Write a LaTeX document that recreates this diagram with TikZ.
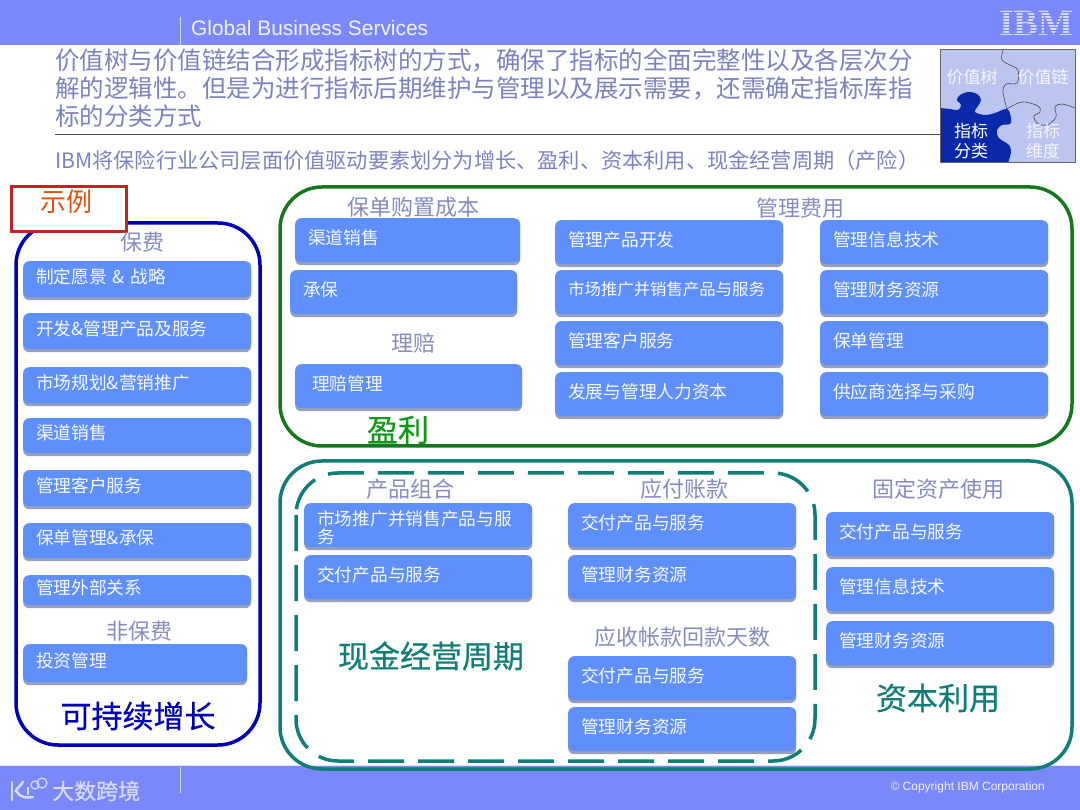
\documentclass[tikz,border=0pt]{standalone}
\usepackage{fontspec}
\setmainfont{Noto Sans CJK SC}
\newfontfamily\hdfont{Liberation Sans}
\newfontfamily\logofont{Liberation Serif}
\newfontfamily\bigfont[FakeBold=0.5]{Noto Sans CJK SC}
\usetikzlibrary{shadows}
\definecolor{bandblue}{RGB}{122,136,250}
\definecolor{boxblue}{RGB}{95,143,250}
\definecolor{boxshadow}{RGB}{150,160,190}
\definecolor{titlegray}{RGB}{125,130,190}
\definecolor{subgray}{RGB}{135,140,190}
\definecolor{framenavy}{RGB}{0,0,180}
\definecolor{framegreen}{RGB}{20,120,30}
\definecolor{frameteal}{RGB}{15,125,120}
\definecolor{puzzlelight}{RGB}{188,196,240}
\definecolor{puzzledark}{RGB}{10,40,170}
\definecolor{examplered}{RGB}{195,35,35}
\newcommand{\fs}[1]{\fontsize{#1}{#1}\selectfont}
\tikzset{
    bluebox/.style={rectangle,rounded corners=6pt,fill=boxblue,text=white!95!boxblue,anchor=north west,
        minimum height=44pt,inner xsep=13pt,inner ysep=0pt,text width=202pt,align=left,text depth=7pt,font=\fs{17.7},
        drop shadow={shadow xshift=0pt,shadow yshift=-3pt,fill=boxshadow,opacity=1}},
    sublabel/.style={text=subgray,font=\fs{22},inner sep=0pt},
    biglabel/.style={font=\bigfont\fs{31},inner sep=0pt},
    headline/.style={text=titlegray,font=\fs{24.5},anchor=west,inner sep=0pt},
    frame/.style={line width=3.5pt,rounded corners=42pt}
}
\begin{document}
\begin{tikzpicture}[x=1pt,y=-1pt]
    \useasboundingbox(0,0)rectangle(1080,810);
    \fill[white](0,0)rectangle(1080,810);
    % bande
    \fill[bandblue](0,0)rectangle(1080,45);
    \fill[bandblue](0,765)rectangle(1080,810);
    \draw[white!75!bandblue](0,765)--(1080,765);
    \draw[white!70!bandblue,line width=1pt](180,17)--(180,45);
    \draw[white!70!bandblue,line width=1pt](180,767)--(180,793);
    \node[anchor=west,inner sep=0pt,text=white!90!bandblue,font=\hdfont\fs{20.9}] (service) at (191,28) {Global Business Services};
    \node[inner sep=0pt,text=white!70!bandblue,font=\logofont\bfseries\fs{37}] (ibmlogo) at (1036,23) {IBM};
    \foreach \y in {9,12,...,36}
        \draw[bandblue,line width=0.9pt](995,\y)--(1076,\y);
    \node[anchor=east,inner sep=0pt,text=white!90!bandblue,font=\hdfont\fs{12}] (copyright) at (1045,787) {© Copyright IBM Corporation};
    % marchio
    \draw[white!70!bandblue,line width=2.5pt,line cap=round](12,782)--(12,800);
    \draw[white!70!bandblue,line width=2.5pt,line cap=round](23,782)to[out=240,in=180](17,792)to[out=0,in=0](17,792)
        to[out=-60,in=190](33,797);
    \draw[white!70!bandblue,line width=2pt](28,787)--(28,795);
    \draw[white!70!bandblue,line width=1.2pt](35,785)circle(4);
    \draw[white!70!bandblue,line width=1.2pt](42,783)circle(5);
    \node[anchor=west,inner sep=0pt,text=white!70!bandblue,font=\bigfont\fs{22}] (watermark) at (52,791) {大数跨境};
    % testo
    \node[headline] (line1) at (55,60) {价值树与价值链结合形成指标树的方式，确保了指标的全面完整性以及各层次分};
    \node[headline] (line2) at (55,88) {解的逻辑性。但是为进行指标后期维护与管理以及展示需要，还需确定指标库指};
    \node[headline] (line3) at (55,116) {标的分类方式};
    \draw[black!70,line width=1pt](55,135)--(940,135);
    \node[headline,font=\fs{21.2}] (line4) at (55,160) {IBM将保险行业公司层面价值驱动要素划分为增长、盈利、资本利用、现金经营周期（产险）};
    % puzzle
    \fill[puzzlelight](940,50)rectangle(1075,163);
    \fill[puzzledark](940,108)plot[smooth,tension=0.6]coordinates{(940,108)(950,109)(958,110)(961,105)(957,100)(960,95)(968,92)(977,94)(981,100)(978,106)(975,112)(985,115)(995,113)(1007,109)(1011,118)(1010,124)(1002,125)(997,130)(998,137)(1003,141)(1009,145)(1011,152)(1008,163)}--(940,163)--cycle;
    \draw[black!70,line width=0.6pt]plot[smooth,tension=0.6]coordinates{(1003,50)(1002,60)(1012,66)(1018,70)(1017,83)(1006,84)(1003,92)(1007,109)};
    \draw[black!70,line width=0.6pt]plot[smooth,tension=0.6]coordinates{(1007,109)(1022,102)(1038,106)(1040,112)(1034,116)(1037,123)(1047,125)(1056,117)(1055,107)(1062,104)(1075,108)};
    \draw[black!60,line width=1pt](940,50)rectangle(1075,163);
    \node[inner sep=0pt,text=white!85!puzzlelight,font=\fs{17}] (valuetree) at (972,77) {价值树};
    \node[inner sep=0pt,text=white!85!puzzlelight,font=\fs{17}] (valuechain) at (1043,77) {价值链};
    \node[inner sep=0pt,text=white,font=\fs{17},align=center] (kpiclass) at (971,141) {指标\\[3pt]分类};
    \node[inner sep=0pt,text=white!85!puzzlelight,font=\fs{17},align=center] (kpidim) at (1043,141) {指标\\[3pt]维度};
    % cornici
    \draw[frame,framenavy](16,223)rectangle(260,745);
    \draw[frame,framegreen](280,187)rectangle(1072,446);
    \draw[frame,frameteal](280,461)rectangle(1072,769);
    \draw[frameteal,line width=3.5pt,rounded corners=42pt,dash pattern=on 36pt off 14pt](296,473)rectangle(815,761);
    \node[draw=examplered,line width=3pt,fill=white,minimum width=115pt,minimum height=45pt,anchor=north west] (example) at (9.5,185.5) {};
    \node[inner sep=0pt,text=orange!50!examplered,font=\fs{26}] (exampletxt) at (67,202) {示例};
    % colonna sinistra
    \node[sublabel] (premium) at (142,242) {保费};
    \foreach \i/\y/\h/\txt in {1/261/36/制定愿景 \& 战略,2/313/36/开发\&管理产品及服务,3/367/36/市场规划\&营销推广,4/418/35/渠道销售,5/470/36/管理客户服务,6/523/35/保单管理\&承保,7/575/30/管理外部关系}
        \node[bluebox,minimum height=\h pt] (premium\i) at (23,\y) {\txt};
    \node[sublabel] (nonpremium) at (139,631) {非保费};
    \node[bluebox,text width=198pt,minimum height=38pt] (invest) at (23,644) {投资管理};
    \node[biglabel,text=framenavy] (growth) at (138,716) {可持续增长};
    % riquadro verde
    \node[sublabel] (policycost) at (413,207) {保单购置成本};
    \node[bluebox,text width=199pt] (channel) at (295,218) {渠道销售};
    \node[bluebox,text width=201pt] (underwrite) at (290,270) {承保};
    \node[sublabel] (claim) at (413,343) {理赔};
    \node[bluebox,text width=193pt,inner xsep=17pt] (claimmgmt) at (295,364) {理赔管理};
    \node[sublabel] (mgmtcost) at (800,208) {管理费用};
    \foreach \i/\y/\txt in {1/220/管理产品开发,2/270/{\fs{16.4}市场推广并销售产品与服务},3/321/管理客户服务,4/372/发展与管理人力资本}
        \node[bluebox] (mgmta\i) at (555,\y) {\txt};
    \foreach \i/\y/\txt in {1/220/管理信息技术,2/270/管理财务资源,3/321/保单管理,4/372/供应商选择与采购}
        \node[bluebox] (mgmtb\i) at (820,\y) {\txt};
    \node[biglabel,text=framegreen!75!green] (profit) at (398,430) {盈利};
    % riquadro turchese
    \node[sublabel] (portfolio) at (410,489) {产品组合};
    \node[bluebox,text depth=14pt] (mix1) at (304,503) {市场推广并销售产品与服\\务};
    \node[bluebox] (mix2) at (304,555) {交付产品与服务};
    \node[sublabel] (payable) at (684,489) {应付账款};
    \node[bluebox] (pay1) at (568,503) {交付产品与服务};
    \node[bluebox] (pay2) at (568,555) {管理财务资源};
    \node[sublabel] (receivable) at (682,637) {应收帐款回款天数};
    \node[bluebox] (rec1) at (568,656) {交付产品与服务};
    \node[bluebox] (rec2) at (568,707) {管理财务资源};
    \node[biglabel,text=frameteal] (cashcycle) at (431,656) {现金经营周期};
    \node[sublabel] (fixedasset) at (938,489) {固定资产使用};
    \foreach \i/\y/\txt in {1/512/交付产品与服务,2/567/管理信息技术,3/621/管理财务资源}
        \node[bluebox] (asset\i) at (826,\y) {\txt};
    \node[biglabel,text=frameteal] (capital) at (938,698) {资本利用};
\end{tikzpicture}
\end{document}
